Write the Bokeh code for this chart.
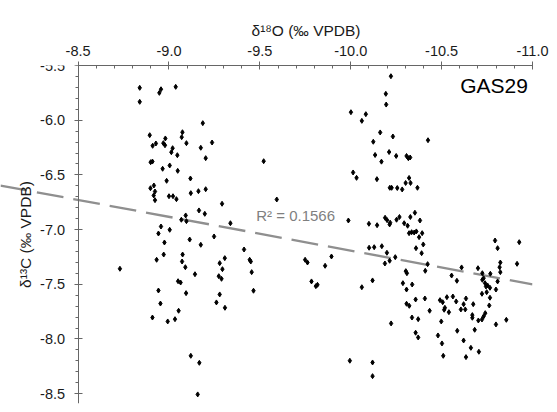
import numpy as np
from bokeh.plotting import figure
from bokeh.models import Range1d, SingleIntervalTicker, NumeralTickFormatter, Label, Title
from bokeh.embed import file_html
from bokeh.resources import INLINE

# delta 18O (x, per mil VPDB)
d18o = [
    -8.839, -8.956, -8.947, -9.037, -8.839, -9.186, -8.894, -9.074, -9.070, -8.980,
    -8.910, -8.928, -8.969, -8.978, -9.020, -9.096, -9.175, -9.237, -9.013, -9.046,
    -8.909, -8.899, -9.202, -9.004, -8.965, -9.048, -9.118, -8.987, -8.917, -8.898,
    -8.923, -8.916, -8.923, -9.000, -9.022, -9.041, -9.120, -9.162, -9.202, -9.292,
    -9.165, -9.197, -9.092, -9.068, -9.096, -9.338, -8.956, -9.004, -8.942, -9.114,
    -9.175, -9.248, -8.975, -8.932, -8.971, -9.075, -9.072, -9.090, -9.143, -9.050,
    -9.064, -8.942, -9.094, -8.953, -9.053, -8.909, -8.993, -9.033, -9.307, -9.279,
    -9.294, -9.274, -9.289, -9.279, -9.261, -9.308, -9.120, -9.167, -9.158, -8.730,
    -9.413, -9.444, -9.450, -9.455, -9.465, -9.521, -9.593, -9.749, -9.762, -9.894,
    -9.859, -9.784, -9.808, -9.817, -9.995,
    -10.001, -10.013, -10.032, -9.987, -10.061, -10.101, -10.129, -10.171, -10.199, -10.221,
    -10.193, -10.195, -10.083, -10.061, -10.162, -10.232, -10.124, -10.425, -10.134, -10.211,
    -10.250, -10.307, -10.317, -10.327, -10.169, -10.144, -10.321, -10.302, -10.329, -10.215,
    -10.225, -10.256, -10.283, -10.367, -10.100, -10.145, -10.189, -10.200, -10.214, -10.217,
    -10.252, -10.268, -10.294, -10.313, -10.328, -10.353, -10.381, -10.321, -10.335, -10.349,
    -10.361, -10.393, -10.376, -10.399, -10.359, -10.390, -10.245, -10.188, -10.214, -10.423,
    -10.410, -10.303, -10.309, -10.120, -10.287, -10.338, -10.307, -10.610, -10.555, -10.584,
    -10.700, -10.724, -10.768, -10.794, -10.808, -10.823, -10.819, -10.823, -10.724, -10.731,
    -10.739, -10.744, -10.753, -10.766, -10.808, -10.799, -10.722, -10.748, -10.766, -10.762,
    -10.307, -10.322, -10.357, -10.408, -10.434, -10.337, -10.371, -10.491, -10.506, -10.529,
    -10.562, -10.580, -10.518, -10.514, -10.540, -10.498, -10.606, -10.630, -10.634, -10.621,
    -10.674, -10.669, -10.669, -10.702, -10.722, -10.731, -10.740, -10.799, -10.856, -10.222,
    -10.357, -10.371, -10.480, -10.502, -10.509, -10.586, -10.621, -10.661, -10.682, -10.705,
    -10.634, -10.120, -10.120, -10.927, -10.915,
]

# delta 13C (y, per mil VPDB)
d13c = [
    -5.704, -5.717, -5.750, -5.695, -5.832, -6.027, -6.137, -6.110, -6.155, -6.167,
    -6.234, -6.213, -6.210, -6.229, -6.256, -6.210, -6.252, -6.204, -6.293, -6.320,
    -6.378, -6.384, -6.347, -6.414, -6.444, -6.463, -6.533, -6.554, -6.597, -6.622,
    -6.652, -6.688, -6.731, -6.695, -6.695, -6.722, -6.667, -6.649, -6.631, -6.764,
    -6.825, -6.856, -6.871, -6.910, -6.923, -6.942, -6.972, -7.002, -7.036, -7.091,
    -7.139, -7.063, -7.118, -7.276, -7.228, -7.228, -7.292, -7.344, -7.408, -7.472,
    -7.484, -7.557, -7.581, -7.676, -7.742, -7.804, -7.840, -7.819, -7.261, -7.307,
    -7.362, -7.426, -7.450, -7.593, -7.666, -7.715, -8.154, -8.218, -8.507, -7.358,
    -7.182, -7.276, -7.292, -7.389, -7.559, -6.375, -6.725, -7.276, -7.301, -7.246,
    -7.331, -7.474, -7.517, -7.505, -8.199,
    -5.927, -6.478, -6.527, -6.917, -7.527, -7.166, -7.161, -7.152, -7.212, -5.598,
    -5.759, -5.857, -5.945, -6.006, -6.112, -6.149, -6.197, -6.183, -6.318, -6.291,
    -6.327, -6.327, -6.348, -6.341, -6.379, -6.539, -6.528, -6.574, -6.574, -6.618,
    -6.618, -6.620, -6.633, -6.618, -6.947, -6.960, -6.892, -6.914, -6.953, -6.937,
    -6.910, -6.885, -6.942, -6.965, -6.885, -6.846, -6.917, -7.033, -7.024, -7.027,
    -7.017, -7.033, -7.069, -7.136, -7.170, -7.216, -7.252, -7.310, -7.285, -7.316,
    -7.377, -7.380, -7.399, -7.465, -7.490, -7.502, -7.548, -7.346, -7.420, -7.468,
    -7.353, -7.399, -7.404, -7.100, -7.170, -7.301, -7.344, -7.389, -7.459, -7.444,
    -7.490, -7.520, -7.511, -7.532, -7.474, -7.548, -7.587, -7.572, -7.623, -7.694,
    -7.678, -7.697, -7.639, -7.630, -7.742, -7.804, -7.819, -7.645, -7.664, -7.618,
    -7.612, -7.657, -7.715, -7.733, -7.755, -7.840, -7.730, -7.730, -7.630, -7.682,
    -7.682, -7.782, -7.806, -7.831, -7.822, -7.794, -7.764, -7.867, -7.825, -7.858,
    -7.943, -7.986, -7.968, -8.041, -8.154, -7.925, -8.014, -8.081, -7.916, -8.117,
    -8.166, -8.215, -8.340, -7.115, -7.313,
]

# linear trendline as shown on the chart (y = slope * x + intercept)
trend_slope = 0.3085
trend_intercept = -4.107

x_axis_min, x_axis_max = -8.5, -11.0
y_axis_min, y_axis_max = -8.5, -5.5
x_title = "δ\u00b9\u2078O (‰ VPDB)"
y_title = "δ\u00b9\u00b3C (‰ VPDB)"
r2_text = "R\u00b2 = 0.1566"
site_name = "GAS29"

FONT = "Liberation Sans"
AXIS_COLOR = "#666666"
TEXT_COLOR = "#1a1a1a"

p = figure(width=557, height=412, output_backend="svg", toolbar_location=None,
           x_range=Range1d(-8.073, x_axis_max), y_range=Range1d(-8.59, y_axis_max),
           x_axis_location="above",
           min_border_left=0, min_border_right=25, min_border_top=65, min_border_bottom=9)
p.outline_line_color = None
p.xgrid.visible = False
p.ygrid.visible = False
p.background_fill_color = "white"
p.border_fill_color = "white"

# top x axis
xa = p.xaxis[0]
xa.ticker = SingleIntervalTicker(interval=0.5, num_minor_ticks=5)
xa.formatter = NumeralTickFormatter(format="0.0")
xa.bounds = (x_axis_max, x_axis_min)
xa.major_tick_in = 4
xa.major_tick_out = 4
xa.minor_tick_in = 3
xa.minor_tick_out = 0
xa.major_label_standoff = 6
xa.major_label_text_font = FONT
xa.major_label_text_font_size = "14.5px"
xa.major_label_text_color = TEXT_COLOR
xa.axis_line_color = AXIS_COLOR
xa.major_tick_line_color = AXIS_COLOR
xa.minor_tick_line_color = AXIS_COLOR

# x-axis title, placed above the top axis
p.add_layout(Title(text=x_title, align="left", offset=251, standoff=7,
                   text_font=FONT, text_font_size="15.5px", text_font_style="normal",
                   text_color=TEXT_COLOR), "above")

# left y axis placed at x = -8.5
ya = p.yaxis[0]
ya.fixed_location = x_axis_min
ya.ticker = SingleIntervalTicker(interval=0.5, num_minor_ticks=5)
ya.formatter = NumeralTickFormatter(format="0.0")
ya.major_tick_in = 4
ya.major_tick_out = 4
ya.minor_tick_in = 0
ya.minor_tick_out = 3
ya.major_label_standoff = 9
ya.major_label_text_font = FONT
ya.major_label_text_font_size = "14.5px"
ya.major_label_text_color = TEXT_COLOR
ya.axis_line_color = AXIS_COLOR
ya.major_tick_line_color = AXIS_COLOR
ya.minor_tick_line_color = AXIS_COLOR

tx = [p.x_range.start, x_axis_max]
ty = [trend_slope * v + trend_intercept for v in tx]
p.line(tx, ty, line_color="#8f8f8f", line_width=2.3, line_dash="27 10")

p.scatter(d18o, d13c, marker="diamond", size=5, color="black")

p.add_layout(Label(x=-9.48, y=-6.871, text=r2_text, text_font=FONT, text_font_size="15px",
                   text_color="#7f7f7f", text_align="left", text_baseline="middle"))
p.add_layout(Label(x=-10.975, y=-5.687, text=site_name, text_font=FONT, text_font_size="21px",
                   text_color="black", text_align="right", text_baseline="middle"))
p.add_layout(Label(x=-8.211, y=-7.045, text=y_title, text_font=FONT, text_font_size="15.5px",
                   text_color=TEXT_COLOR, text_align="center", text_baseline="middle",
                   angle=np.pi / 2))

open("out.html", "w").write(file_html(p, INLINE))
